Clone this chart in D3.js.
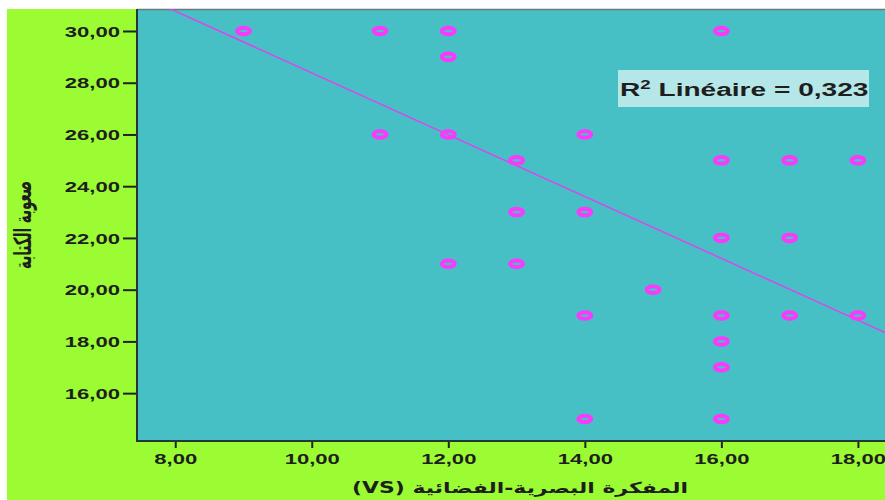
<!DOCTYPE html>
<html>
<head>
<meta charset="utf-8">
<script src="https://cdn.jsdelivr.net/npm/d3@7"></script>
<style>
  body { margin: 0; background: #fff; }
  text { font-family: "Liberation Sans", Arial, sans-serif; font-weight: bold; fill: #1e1e1e; }
  .ar { font-family: "DejaVu Sans", sans-serif; }
</style>
</head>
<body>
<div id="chart"></div>
<script>
// points (VS score, writing difficulty)
var vsScores = [9, 11, 12, 16, 12, 11, 12, 14, 13, 16, 17, 18, 13, 14, 16, 17, 12, 13, 15, 14, 16, 17, 18, 16, 16, 14, 16];
var writingScores = [30, 30, 30, 30, 29, 26, 26, 26, 25, 25, 25, 25, 23, 23, 22, 22, 21, 21, 20, 19, 19, 19, 19, 18, 17, 15, 15];

// fitted line
var fitIntercept = 40.33;
var fitSlope = -1.195;
var r2Label = '0,323';

var xTicks = [8, 10, 12, 14, 16, 18];
var xTickLabels = ['8,00', '10,00', '12,00', '14,00', '16,00', '18,00'];
var yTicks = [16, 18, 20, 22, 24, 26, 28, 30];
var yTickLabels = ['16,00', '18,00', '20,00', '22,00', '24,00', '26,00', '28,00', '30,00'];

var xTitle = 'المفكرة البصرية-الفضائية (VS)';
var yTitle = 'صعوبة الكتابة';

var svgWidth = 885;
var svgHeight = 500;
var plot = { left: 137, top: 9, right: 890, bottom: 441 };

var svg = d3.select('#chart').append('svg')
    .attr('width', svgWidth)
    .attr('height', svgHeight);

svg.append('rect')
    .attr('x', 7).attr('y', 9)
    .attr('width', svgWidth - 7).attr('height', svgHeight - 9)
    .attr('fill', '#9bfc33');

var x = d3.scaleLinear().domain([7.44, 18.47]).range([plot.left, plot.right]);
var y = d3.scaleLinear().domain([14.15, 30.85]).range([plot.bottom, plot.top]);

svg.append('rect')
    .attr('x', plot.left).attr('y', plot.top)
    .attr('width', plot.right - plot.left).attr('height', plot.bottom - plot.top)
    .attr('fill', '#47c0c5');

svg.append('clipPath').attr('id', 'clip')
    .append('rect')
    .attr('x', plot.left).attr('y', plot.top)
    .attr('width', plot.right - plot.left).attr('height', plot.bottom - plot.top);

// widen text horizontally like the stretched original
function widen(sel, k) {
    sel.each(function() {
        var w = this.getComputedTextLength();
        d3.select(this).attr('textLength', w * k).attr('lengthAdjust', 'spacingAndGlyphs');
    });
}

var yAxis = svg.append('g')
    .attr('transform', `translate(${plot.left},0)`)
    .call(d3.axisLeft(y).tickValues(yTicks).tickSize(14).tickSizeOuter(0)
        .tickFormat((d, i) => yTickLabels[i]));
var xAxis = svg.append('g')
    .attr('transform', `translate(0,${plot.bottom})`)
    .call(d3.axisBottom(x).tickValues(xTicks).tickSize(7).tickSizeOuter(0)
        .tickFormat((d, i) => xTickLabels[i]));

[xAxis, yAxis].forEach(function(ax) {
    ax.select('.domain').remove();
    ax.selectAll('line').attr('stroke', '#222').attr('stroke-width', 2);
    ax.selectAll('text')
        .attr('font-size', 14.5)
        .attr('fill', '#1e1e1e')
        .style('font-family', '"Liberation Sans", Arial, sans-serif')
        .style('font-weight', 'bold');
});
yAxis.selectAll('text').attr('x', -17).attr('dy', '0.36em');
xAxis.selectAll('text').attr('y', 12).attr('dy', '0.75em');
widen(yAxis.selectAll('text'), 1.52);
widen(xAxis.selectAll('text'), 1.52);

// plot frame
svg.append('line')
    .attr('x1', plot.left).attr('x2', plot.right)
    .attr('y1', plot.top + 0.5).attr('y2', plot.top + 0.5)
    .attr('stroke', '#6a7a7a').attr('stroke-width', 1.5);
svg.append('line')
    .attr('x1', plot.left).attr('x2', plot.left)
    .attr('y1', plot.top).attr('y2', plot.bottom + 1)
    .attr('stroke', '#263535').attr('stroke-width', 2);
svg.append('line')
    .attr('x1', plot.left).attr('x2', plot.right)
    .attr('y1', plot.bottom).attr('y2', plot.bottom)
    .attr('stroke', '#263535').attr('stroke-width', 2);

// regression line
var xd = x.domain();
svg.append('line')
    .attr('clip-path', 'url(#clip)')
    .attr('x1', x(xd[0])).attr('y1', y(fitIntercept + fitSlope * xd[0]))
    .attr('x2', x(xd[1])).attr('y2', y(fitIntercept + fitSlope * xd[1]))
    .attr('stroke', '#e23ff0').attr('stroke-width', 1.4);

// points
svg.append('g').selectAll('ellipse')
    .data(vsScores)
    .enter()
    .append('ellipse')
    .attr('cx', d => x(d))
    .attr('cy', (d, i) => y(writingScores[i]))
    .attr('rx', 6.5)
    .attr('ry', 3.3)
    .attr('fill', 'none')
    .attr('stroke', '#fb38fb')
    .attr('stroke-width', 3.9);

// R2 annotation
svg.append('rect')
    .attr('x', 618).attr('y', 70)
    .attr('width', 251).attr('height', 37)
    .attr('fill', '#b5e7e8');
var r2 = svg.append('text')
    .attr('transform', 'translate(620,96) scale(1.56,1)')
    .attr('font-size', 18);
r2.append('tspan').text('R');
r2.append('tspan').attr('font-size', 12).attr('dy', -7).text('2');
r2.append('tspan').attr('dy', 7).text('  Linéaire = ' + r2Label);

// axis titles
var xt = svg.append('text')
    .attr('class', 'ar')
    .attr('x', 520).attr('y', 493)
    .attr('text-anchor', 'middle')
    .attr('direction', 'rtl')
    .attr('font-size', 15)
    .text(xTitle);
xt.attr('textLength', 336).attr('lengthAdjust', 'spacingAndGlyphs');

svg.append('text')
    .attr('class', 'ar')
    .attr('transform', 'translate(31,225) scale(1.6,1) rotate(-90)')
    .attr('text-anchor', 'middle')
    .attr('font-size', 15)
    .attr('textLength', 88)
    .attr('lengthAdjust', 'spacingAndGlyphs')
    .text(yTitle);
</script>
</body>
</html>
